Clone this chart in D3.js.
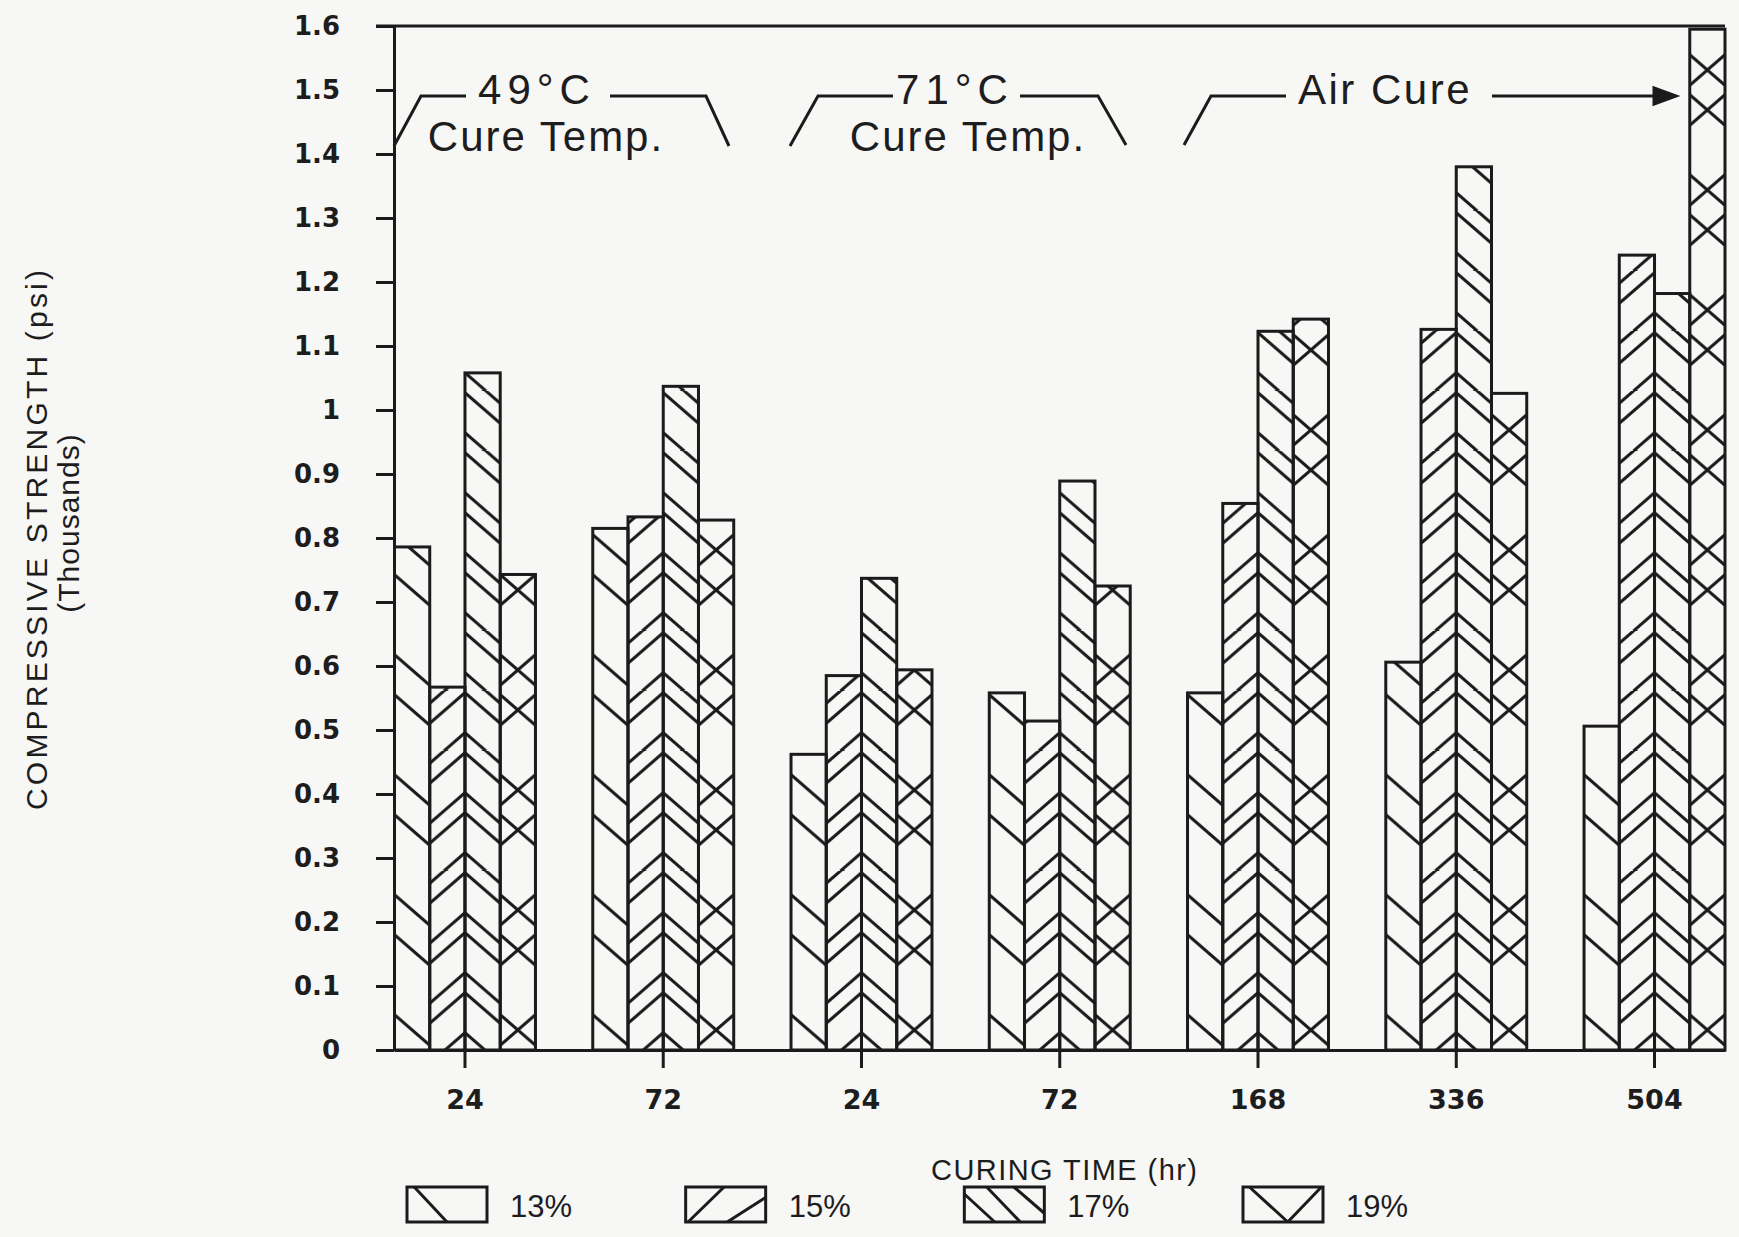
<!DOCTYPE html>
<html>
<head>
<meta charset="utf-8">
<script src="https://cdn.jsdelivr.net/npm/d3@7/dist/d3.min.js"></script>
<style>
  body { margin: 0; background: #f7f7f6; }
  svg { display: block; }
  text { fill: #1d1d1d; }
</style>
</head>
<body>
<div id="chart"></div>
<script>
// values, compressive strength in thousands of psi
var groups = ["24", "72", "24", "72", "168", "336", "504"];
var series = ["13%", "15%", "17%", "19%"];
var v13 = [0.786, 0.815, 0.462, 0.558, 0.558, 0.606, 0.506];
var v15 = [0.567, 0.833, 0.585, 0.514, 0.854, 1.126, 1.242];
var v17 = [1.058, 1.037, 0.737, 0.889, 1.123, 1.380, 1.182];
var v19 = [0.743, 0.828, 0.594, 0.725, 1.142, 1.026, 1.595];
var yTickValues = [0, 0.1, 0.2, 0.3, 0.4, 0.5, 0.6, 0.7, 0.8, 0.9, 1, 1.1, 1.2, 1.3, 1.4, 1.5, 1.6];

var ink = "#1b1b1b";

// hatch styles: vertical repeat, centre heights of the strokes, stroke directions (-1 = "\", 1 = "/")
var hatch = [
  {period: 120, mids: [-20, 20], dirs: [-1]},
  {period: 60, mids: [-18, 2], dirs: [1]},
  {period: 60, mids: [-18, 2], dirs: [-1]},
  {period: 120, mids: [-20, 20], dirs: [-1, 1]}
];

var table = groups.map(function(g, i) {
  return {i: i, label: g, values: [v13[i], v15[i], v17[i], v19[i]]};
});

var margin = {top: 26, right: 14, bottom: 187, left: 394},
    width = 1739 - margin.left - margin.right,
    height = 1237 - margin.top - margin.bottom;

var svgRoot = d3.select("#chart")
  .append("svg")
    .attr("width", 1739)
    .attr("height", 1237);
var defs = svgRoot.append("defs");
var svg = svgRoot.append("g")
    .attr("transform", "translate(" + margin.left + "," + margin.top + ")");

// scales
var x0 = d3.scaleBand()
  .domain(d3.range(groups.length))
  .range([0.5, width])
  .paddingInner(0.289)
  .paddingOuter(0);
var x1 = d3.scaleBand()
  .domain(series)
  .range([0, x0.bandwidth()])
  .padding(0);
var y = d3.scaleLinear()
  .domain([0, 1.6])
  .range([height, 0]);

var bw = x1.bandwidth();
var drop = bw * 0.87;

// one pattern per series, in the coordinates of a group: anchored at the bar's left edge and the baseline
series.forEach(function(s, si) {
  var h = hatch[si];
  var p = defs.append("pattern")
    .attr("id", "hatch-" + si)
    .attr("patternUnits", "userSpaceOnUse")
    .attr("x", x1(s))
    .attr("y", y(0))
    .attr("width", bw)
    .attr("height", h.period);
  h.mids.forEach(function(m) {
    h.dirs.forEach(function(dir) {
      [-1, 0, 1, 2].forEach(function(k) {
        p.append("line")
          .attr("x1", 0)
          .attr("y1", -(m - dir * drop / 2) + k * h.period)
          .attr("x2", bw)
          .attr("y2", -(m + dir * drop / 2) + k * h.period)
          .attr("stroke", ink)
          .attr("stroke-width", 3);
      });
    });
  });
});

// Y axis
var yAxis = svg.append("g")
  .call(d3.axisLeft(y)
    .tickValues(yTickValues)
    .tickFormat(d3.format("~g"))
    .tickSize(18)
    .tickSizeOuter(0)
    .tickPadding(36));
yAxis.selectAll("line, path").attr("stroke", ink).attr("stroke-width", 3);
yAxis.selectAll("text")
  .style("font-family", "'DejaVu Sans', sans-serif")
  .style("font-size", "26px")
  .style("font-weight", "bold")
  .attr("fill", "#222");

// X axis
var xAxis = svg.append("g")
  .attr("transform", "translate(0," + height + ")")
  .call(d3.axisBottom(x0)
    .tickFormat(function(i) { return groups[i]; })
    .tickSize(18)
    .tickSizeOuter(0)
    .tickPadding(22));
xAxis.selectAll("line, path").attr("stroke", ink).attr("stroke-width", 3);
xAxis.selectAll("text")
  .style("font-family", "'DejaVu Sans', sans-serif")
  .style("font-size", "27px")
  .style("font-weight", "bold")
  .attr("fill", "#222");

// top frame line
svg.append("line")
  .attr("x1", -18).attr("x2", width)
  .attr("y1", y(1.6)).attr("y2", y(1.6))
  .attr("stroke", ink).attr("stroke-width", 3.2);

// bars
var gGroups = svg.selectAll(".grp")
  .data(table)
  .enter().append("g")
    .attr("class", "grp")
    .attr("transform", function(d) { return "translate(" + x0(d.i) + ",0)"; });

gGroups.selectAll("rect")
  .data(function(d) { return d.values.map(function(v, si) { return {i: d.i, si: si, v: v}; }); })
  .enter().append("rect")
    .attr("x", function(d) { return x1(series[d.si]); })
    .attr("y", function(d) { return y(d.v); })
    .attr("width", bw)
    .attr("height", function(d) { return height - y(d.v); })
    .attr("fill", function(d) { return "url(#hatch-" + d.si + ")"; })
    .attr("stroke", ink)
    .attr("stroke-width", 3);

// Cure annotations across the top
var ann = svgRoot.append("g")
  .attr("fill", "none")
  .attr("stroke", ink)
  .attr("stroke-width", 3);
ann.append("path").attr("d", "M394,146 L421,96 L466,96");
ann.append("path").attr("d", "M610,96 L706,96 L729,146");
ann.append("path").attr("d", "M790,146 L818,96 L893,96");
ann.append("path").attr("d", "M1020,96 L1098,96 L1126,145");
ann.append("path").attr("d", "M1184,145 L1211,96 L1286,96");
ann.append("path").attr("d", "M1492,96 L1670,96");
ann.append("path").attr("d", "M1654,88 L1676,96 L1654,104 Z").attr("fill", ink);

var annText = [
  {t: "49°C", x: 537, y: 104, ls: 6},
  {t: "Cure Temp.", x: 546, y: 151, ls: 2},
  {t: "71°C", x: 955, y: 104, ls: 6},
  {t: "Cure Temp.", x: 968, y: 151, ls: 2},
  {t: "Air Cure", x: 1385, y: 104, ls: 2.5}
];
svgRoot.selectAll(".ann")
  .data(annText)
  .enter().append("text")
    .attr("class", "ann")
    .attr("x", function(d) { return d.x; })
    .attr("y", function(d) { return d.y; })
    .attr("text-anchor", "middle")
    .style("font-family", "'Liberation Sans', Arial, sans-serif")
    .style("font-size", "42px")
    .style("letter-spacing", function(d) { return d.ls + "px"; })
    .text(function(d) { return d.t; });

// axis titles
svgRoot.append("text")
  .attr("transform", "translate(47,540) rotate(-90)")
  .attr("text-anchor", "middle")
  .attr("textLength", 540)
  .attr("lengthAdjust", "spacing")
  .style("font-family", "'Liberation Sans', Arial, sans-serif")
  .style("font-size", "30px")
  .text("COMPRESSIVE STRENGTH (psi)");
svgRoot.append("text")
  .attr("transform", "translate(79,523) rotate(-90)")
  .attr("text-anchor", "middle")
  .style("font-family", "'Liberation Sans', Arial, sans-serif")
  .style("font-size", "30px")
  .style("letter-spacing", "1px")
  .text("(Thousands)");
svgRoot.append("text")
  .attr("x", 1064)
  .attr("y", 1180)
  .attr("text-anchor", "middle")
  .attr("textLength", 266)
  .attr("lengthAdjust", "spacing")
  .style("font-family", "'Liberation Sans', Arial, sans-serif")
  .style("font-size", "29px")
  .text("CURING TIME (hr)");

// legend
var swatchLines = [
  [[[0.09, 0], [0.5, 1]]],
  [[[0.03, 1], [0.48, 0]], [[0.52, 1], [1, 0.3]]],
  [[[0, 0.2], [0.38, 1]], [[0.28, 0], [0.7, 1]], [[0.62, 0], [1, 0.75]]],
  [[[0.08, 0], [0.56, 1]], [[0.56, 1], [0.98, 0]]]
];
var legX = d3.scaleLinear().domain([0, series.length - 1]).range([407, 1243]);
var boxW = 80, boxH = 35, boxY = 1187;

var leg = svgRoot.selectAll(".leg")
  .data(series)
  .enter().append("g")
    .attr("class", "leg")
    .attr("transform", function(d, i) { return "translate(" + legX(i) + "," + boxY + ")"; });
leg.each(function(d, i) {
  var g = d3.select(this);
  swatchLines[i].forEach(function(l) {
    g.append("line")
      .attr("x1", l[0][0] * boxW).attr("y1", l[0][1] * boxH)
      .attr("x2", l[1][0] * boxW).attr("y2", l[1][1] * boxH)
      .attr("stroke", ink).attr("stroke-width", 3);
  });
});
leg.append("rect")
  .attr("width", boxW)
  .attr("height", boxH)
  .attr("fill", "none")
  .attr("stroke", ink)
  .attr("stroke-width", 3);
leg.append("text")
  .attr("x", boxW + 23)
  .attr("y", 30)
  .style("font-family", "'Liberation Sans', Arial, sans-serif")
  .style("font-size", "31px")
  .text(function(d) { return d; });
</script>
</body>
</html>
